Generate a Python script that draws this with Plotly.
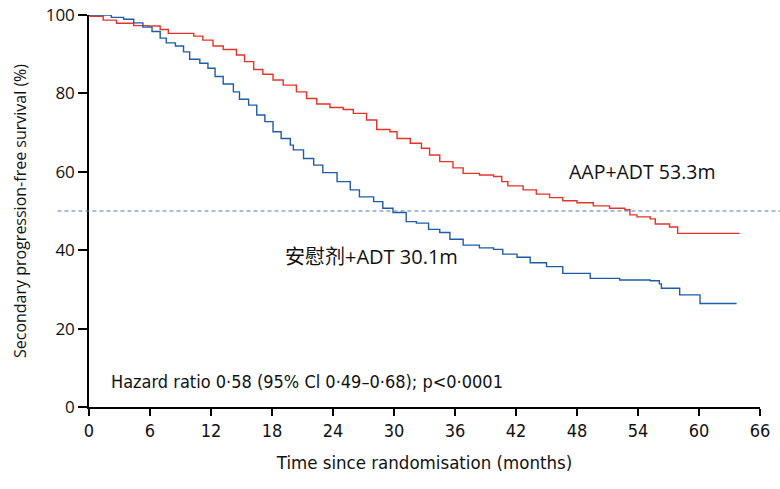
import plotly.graph_objects as go

# Data (months, % survival), step curves
aap_months = [0, 0.1, 1.4, 2.7, 4.4, 5.8, 7.0, 7.8, 10.3, 11.2, 12.2, 13.2, 14.5, 15.3, 16.2,
              17.1, 18.1, 19.1, 20.4, 21.4, 22.4, 23.7, 25.0, 26.0, 27.3, 28.3, 29.6, 30.3,
              31.6, 32.7, 33.5, 34.5, 35.8, 36.8, 38.4, 39.8, 40.6, 41.2, 42.7, 44.0, 45.3,
              46.6, 48.0, 49.6, 51.2, 52.7, 53.2, 53.9, 55.2, 55.7, 57.1, 57.9, 64.0]
aap_surv = [100, 99.7, 98.7, 97.9, 97.3, 97.2, 96.3, 95.3, 94.6, 93.6, 92.1, 91.2, 89.8, 88.1, 86.1,
            84.9, 83.4, 82.1, 80.4, 78.7, 77.3, 76.4, 75.9, 74.9, 73.2, 70.8, 70.2, 68.5,
            67.3, 66.0, 64.3, 62.6, 61.0, 59.6, 59.2, 58.8, 57.5, 56.4, 55.4, 54.3, 53.4,
            52.6, 52.1, 51.3, 50.7, 50.3, 49.0, 48.5, 48.0, 46.7, 45.9, 44.3, 44.3]

pbo_months = [0, 2.2, 3.4, 4.4, 5.3, 6.2, 7.0, 7.6, 8.5, 9.3, 9.9, 10.9, 11.7, 12.4, 13.2,
              14.2, 14.8, 15.7, 16.5, 17.3, 18.1, 18.9, 19.8, 20.1, 21.1, 22.1, 23.0, 24.4,
              25.7, 26.6, 28.0, 28.9, 29.9, 31.2, 32.2, 33.4, 34.5, 35.5, 36.8, 38.4, 39.8,
              40.7, 42.1, 43.4, 45.0, 46.6, 49.3, 52.2, 55.2, 56.1, 56.3, 58.1, 60.1, 63.7]
pbo_surv = [100, 99.4, 98.9, 98.0, 96.9, 95.8, 94.1, 92.9, 92.1, 90.6, 88.7, 87.7, 86.4, 84.3, 82.4,
            80.4, 78.5, 77.0, 74.5, 72.8, 70.2, 68.5, 66.8, 65.6, 63.4, 61.7, 59.8, 57.5,
            55.4, 53.6, 52.4, 50.7, 49.6, 47.3, 46.9, 45.3, 44.5, 42.8, 41.3, 40.6, 40.2,
            39.0, 38.2, 36.8, 35.8, 34.1, 32.8, 32.4, 32.2, 31.4, 30.3, 28.6, 26.4, 26.4]

x_ticks = list(range(0, 67, 6))
y_ticks = [0, 20, 40, 60, 80, 100]
median_level = 50

label_aap = "AAP+ADT 53.3m"
label_pbo = "安慰剂+ADT 30.1m"
hr_text = "Hazard ratio 0·58 (95% Cl 0·49–0·68); p<0·0001"

NARROW = "DejaVu Sans Condensed, Roboto, sans-serif"
SANS = "Open Sans, Noto Sans CJK SC, sans-serif"

fig = go.Figure()
fig.add_trace(go.Scatter(x=aap_months, y=aap_surv, mode="lines", line_shape="hv",
                         line=dict(color="#e3342a", width=1.4), showlegend=False))
fig.add_trace(go.Scatter(x=pbo_months, y=pbo_surv, mode="lines", line_shape="hv",
                         line=dict(color="#1f5ca6", width=1.4), showlegend=False))

fig.add_shape(type="line", xref="paper", yref="y", x0=-0.047, x1=1.03,
              y0=median_level, y1=median_level,
              line=dict(color="#4f79b8", width=1, dash="4px,3px"))

fig.add_annotation(x=54.4, y=60, text=label_aap, showarrow=False, xanchor="center",
                   yanchor="middle", font=dict(family=SANS, size=19.5, color="#111"))
fig.add_annotation(x=19.1, y=38.3, text=label_pbo, showarrow=False, xanchor="left",
                   yanchor="middle", font=dict(family=SANS, size=20, color="#111"))
fig.add_annotation(x=2.0, y=6.4, text=hr_text, showarrow=False, xanchor="left",
                   yanchor="middle", font=dict(family=NARROW, size=18, color="#111"))

fig.update_xaxes(range=[0, 66], tickvals=x_ticks, ticks="outside", ticklen=7, tickwidth=1.5,
                 tickcolor="#000", showline=True, linecolor="#000", linewidth=1.5,
                 showgrid=False, zeroline=False, automargin=False,
                 tickfont=dict(family=NARROW, size=18, color="#111"),
                 title=dict(text="Time since randomisation (months)", standoff=16,
                            font=dict(family=NARROW, size=18.5, color="#111")))
fig.update_yaxes(range=[0, 100], tickvals=y_ticks, ticks="outside", ticklen=9, tickwidth=1.5,
                 tickcolor="#000", showline=True, linecolor="#000", linewidth=1.5,
                 showgrid=False, zeroline=False, automargin=False,
                 tickfont=dict(family=SANS, size=17, color="#111"),
                 title=dict(text="Secondary progression-free survival (%)", standoff=15,
                            font=dict(family=SANS, size=16, color="#111")))

fig.update_layout(width=780, height=489, margin=dict(l=89, r=20, t=15, b=82),
                  plot_bgcolor="white", paper_bgcolor="white")

fig.write_html("out.html", config={"displayModeBar": False},
               post_script="document.body.style.margin='0';document.body.style.overflow='hidden';")
